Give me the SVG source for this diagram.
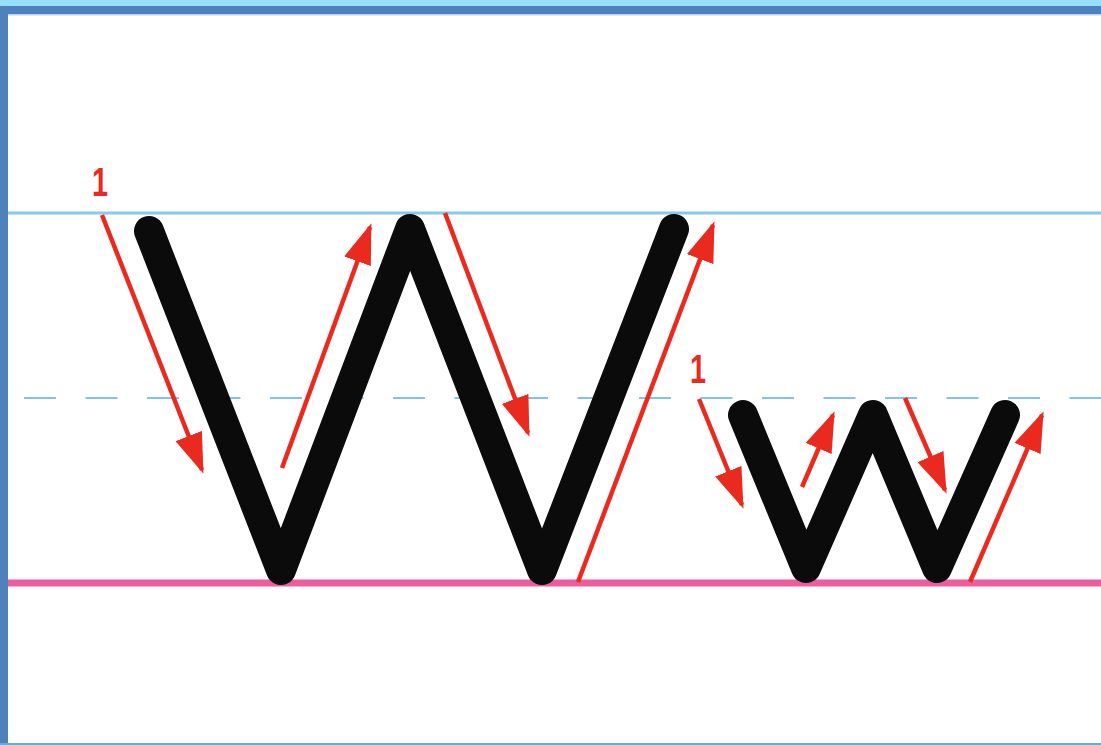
<svg xmlns="http://www.w3.org/2000/svg" width="1101" height="745" viewBox="0 0 1101 745">
<style>
.letter{fill:none;stroke:#0b0b0b;stroke-width:30;stroke-linecap:round;stroke-linejoin:round}
.arr{fill:none;stroke:#ea2a1e;stroke-width:4.5}
.num{font-family:"Liberation Sans",Arial,sans-serif;font-weight:bold;font-size:40px;fill:#ea2a1e;text-anchor:middle}
</style>
<defs>
<marker id="ah" viewBox="0 0 10 7" refX="9" refY="3.5" markerWidth="9" markerHeight="6.3" orient="auto" markerUnits="strokeWidth">
<path d="M0,0 L10,3.5 L0,7 Z" fill="#ea2a1e"/>
</marker>
</defs>
<rect x="0" y="0" width="1101" height="745" fill="#ffffff"/>
<g id="frame">
<rect x="0" y="0" width="1101" height="6" fill="#96dff8"/>
<rect x="0" y="6" width="1101" height="8" fill="#4f81bd"/>
<rect x="8" y="14" width="1093" height="1.5" fill="#bcd4ee"/>
<rect x="0" y="6" width="8" height="739" fill="#4f81bd"/>
<rect x="0" y="743" width="1101" height="2" fill="#7ba3d0"/>
</g>
<g id="guides">
<line x1="8" y1="213" x2="1101" y2="213" stroke="#86c8ef" stroke-width="3"/>
<line x1="24" y1="398" x2="1101" y2="398" stroke="#7fc4ec" stroke-width="2" stroke-dasharray="32 29.5"/>
<line x1="8" y1="583" x2="1101" y2="583" stroke="#ef5b9c" stroke-width="7"/>
</g>
<g id="letter-W">
<polyline class="letter" points="149,231 281,570 410,229 542,570 674,229"/>
</g>
<g id="letter-w">
<polyline class="letter" points="743,415 806,568 873,415 937,568 1005,415"/>
</g>
<g id="labels">
<text class="num" x="100" y="196" transform="translate(100 0) scale(0.72 1) translate(-100 0)">1</text>
<text class="num" x="698" y="383" transform="translate(698 0) scale(0.72 1) translate(-698 0)">1</text>
</g>
<g id="connectors">
<line class="arr" x1="102" y1="215" x2="202" y2="470" marker-end="url(#ah)"/>
<line class="arr" x1="282" y1="468" x2="370" y2="227" marker-end="url(#ah)"/>
<line class="arr" x1="445" y1="213" x2="528" y2="433" marker-end="url(#ah)"/>
<line class="arr" x1="578" y1="582" x2="713" y2="225" marker-end="url(#ah)"/>
<line class="arr" x1="699" y1="399" x2="742" y2="505" marker-end="url(#ah)"/>
<line class="arr" x1="802" y1="487" x2="833" y2="415" marker-end="url(#ah)"/>
<line class="arr" x1="905" y1="398" x2="945" y2="490" marker-end="url(#ah)"/>
<line class="arr" x1="970" y1="582" x2="1042" y2="415" marker-end="url(#ah)"/>
</g>
</svg>
